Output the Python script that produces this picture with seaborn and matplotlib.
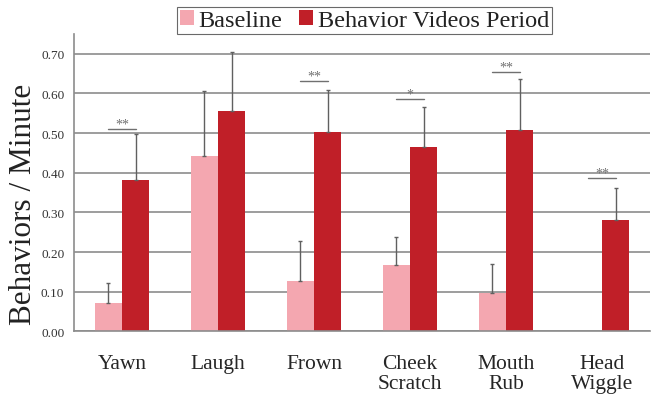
import numpy as np
import pandas as pd
import seaborn as sns
import matplotlib.pyplot as plt

# values
behaviors = ['Yawn', 'Laugh', 'Frown', 'Cheek\nScratch', 'Mouth\nRub', 'Head\nWiggle']
baseline = [0.071, 0.441, 0.128, 0.168, 0.097, 0.0]
baseline_err = [0.050, 0.164, 0.100, 0.070, 0.073, 0.0]
videos = [0.382, 0.555, 0.503, 0.466, 0.508, 0.281]
videos_err = [0.115, 0.150, 0.106, 0.100, 0.127, 0.080]
sig_labels = ['**', '', '**', '*', '**', '**']
sig_y = [0.511, None, 0.630, 0.586, 0.655, 0.386]

df = pd.DataFrame({
    'Behavior': behaviors * 2,
    'Rate': baseline + videos,
    'Period': ['Baseline'] * 6 + ['Behavior Videos Period'] * 6,
})

sns.set_style('white')
plt.rcParams['font.family'] = ['Liberation Serif', 'DejaVu Serif']

fig = plt.figure(figsize=(6.52, 4.02), dpi=100)
ax = fig.add_axes([0.1135, 0.1729, 0.8835, 0.7405])

grid_col = '#8c8c8c'
ax.set_axisbelow(True)
ax.yaxis.grid(True, color=grid_col, linewidth=1.2)

sns.barplot(data=df, x='Behavior', y='Rate', hue='Period', order=behaviors,
            palette=['#F4A7B0', '#C01F28'], saturation=1, width=0.57, ax=ax,
            legend=True, edgecolor='none')

# one-sided error bars, using the bar centres seaborn placed
errs = [baseline_err, videos_err]
centers = []
for cont, err in zip(ax.containers, errs):
    xs = [b.get_x() + b.get_width() / 2 for b in cont]
    hs = [b.get_height() for b in cont]
    centers.append(xs)
    keep = [i for i in range(len(xs)) if err[i] > 0]
    ax.errorbar([xs[i] for i in keep], [hs[i] for i in keep],
                yerr=[[0] * len(keep), [err[i] for i in keep]],
                fmt='none', ecolor='#606060', elinewidth=1.0, capsize=1.6,
                capthick=1.0, zorder=3)

# significance markers
for i, (lab, y) in enumerate(zip(sig_labels, sig_y)):
    if not lab:
        continue
    ax.plot([centers[0][i], centers[1][i]], [y, y], color='#707070', lw=1.0, zorder=3)
    ax.text((centers[0][i] + centers[1][i]) / 2, y - 0.004, lab, ha='center',
            va='bottom', fontsize=10, color='#707070')

ax.set_ylim(0, 0.75)
ax.set_xlim(-0.5, 5.5)
ax.set_yticks(np.arange(0, 0.71, 0.1))
ax.set_yticklabels([f'{v:.2f}' for v in np.arange(0, 0.71, 0.1)], fontsize=9.5, color='#333333')
ax.tick_params(axis='y', length=0, pad=7)

ax.set_xticks(np.arange(-0.5, 6, 1), minor=True)
ax.tick_params(axis='x', which='minor', length=7, color=grid_col, width=1.2)
ax.tick_params(axis='x', which='major', length=0, pad=16, labelsize=15.5)
for lbl in ax.get_xticklabels():
    lbl.set_verticalalignment('top')
    lbl.set_linespacing(1.1)

for s in ['top', 'right']:
    ax.spines[s].set_visible(False)
for s in ['left', 'bottom']:
    ax.spines[s].set_color(grid_col)
    ax.spines[s].set_linewidth(1.2)

ax.set_xlabel('')
ax.set_ylabel('Behaviors / Minute', fontsize=22.5, color='#222222')
ax.yaxis.set_label_coords(-0.062, 0.43)

handles, labels = ax.get_legend_handles_labels()
ax.get_legend().remove()
leg = fig.legend(handles, labels, ncol=2, loc='upper center',
                 bbox_to_anchor=(0.559, 0.98), fontsize=17.5, frameon=True,
                 fancybox=False, edgecolor='#444444', handlelength=0.55,
                 handleheight=0.55, handletextpad=0.2, columnspacing=0.7,
                 borderpad=0.12, borderaxespad=0)
leg.get_frame().set_linewidth(0.8)
for t in leg.get_texts():
    t.set_color('#222222')

plt.savefig('out.png', dpi=100)
